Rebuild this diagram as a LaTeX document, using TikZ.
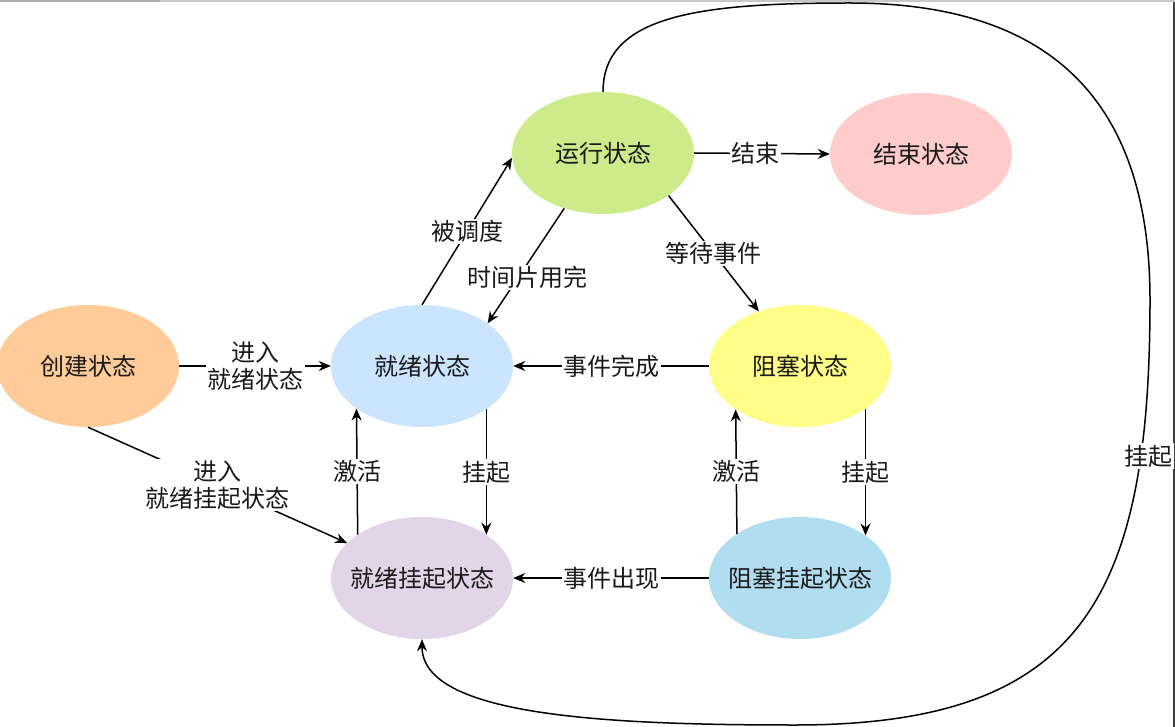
\documentclass[tikz,border=0pt]{standalone}
\usepackage{fontspec}
\newfontfamily\cjk{Noto Sans CJK SC}
\usetikzlibrary{shapes.geometric,arrows.meta}
\newcommand\ctrtext[1]{\makebox[0pt]{#1}}
\definecolor{cRun}{HTML}{CDEB8B}
\definecolor{cEnd}{HTML}{FFCCCC}
\definecolor{cNew}{HTML}{FFCC99}
\definecolor{cReady}{HTML}{CCE5FF}
\definecolor{cBlock}{HTML}{FFFF88}
\definecolor{cRS}{HTML}{E1D5E7}
\definecolor{cBS}{HTML}{B1DDF0}
\definecolor{txt}{HTML}{1A1A1A}
\begin{document}
\begin{tikzpicture}[x=1pt,y=-1pt,
  state/.style={ellipse, draw=none, inner sep=0pt, minimum width=182pt, minimum height=122pt,
    font=\cjk\fontsize{24}{28}\selectfont, text=txt},
  lbl/.style={fill=white, inner sep=1.5pt, font=\cjk\fontsize{24}{27}\selectfont, text=txt, align=center},
  edge/.style={line width=1.5pt, draw=black, -{Stealth[length=12pt,width=10pt]}},
  frameline/.style={line width=1.2pt}]
\useasboundingbox (0,0) rectangle (1175,727);
% screenshot frame
\draw[frameline, draw=black!22] (0,1) -- (1175,1);
\draw[frameline, draw=black!32] (0,1) -- (160,1);
\draw[line width=1.5pt, draw=black!75] (1174,2) -- (1174,727);
% states
\node[state, fill=cRun]   (yx)   at (603,153) {\ctrtext{运行状态}};
\node[state, fill=cEnd]   (js)   at (921,154) {\ctrtext{结束状态}};
\node[state, fill=cNew]   (cj)   at (88,366)  {\ctrtext{创建状态}};
\node[state, fill=cReady] (jx)   at (422,366) {\ctrtext{就绪状态}};
\node[state, fill=cBlock] (zs)   at (800,366) {\ctrtext{阻塞状态}};
\node[state, fill=cRS]    (jxgq) at (422,578) {\ctrtext{就绪挂起状态}};
\node[state, fill=cBS]    (zsgq) at (800,578) {\ctrtext{阻塞挂起状态}};
% transitions
\draw[edge] (cj.east) -- node[lbl]{进入\\就绪状态} (jx.west);
\draw[edge] (cj.-90) -- node[lbl]{进入\\就绪挂起状态} (jxgq.155);
\draw[edge] (jx.90) -- node[lbl]{被调度} (yx.183);
\draw[edge] (yx.235.4) -- node[lbl, pos=0.6, xshift=9pt]{时间片用完} (jx.33.5);
\draw[edge] (yx.-33.5) -- node[lbl]{等待事件} (zs.127);
\draw[edge] (yx.east) -- node[lbl, pos=0.45]{结束} (js.west);
\draw[edge] (zs.west) -- node[lbl]{事件完成} (jx.east);
\draw[edge] (zsgq.west) -- node[lbl]{事件出现} (jxgq.east);
\draw[edge] (jx.-34.1) -- node[lbl]{挂起} (jxgq.34.1);
\draw[edge] (jxgq.146.7) -- node[lbl]{激活} (jx.213.3);
\draw[edge] (zs.-33.3) -- node[lbl]{挂起} (zsgq.33.3);
\draw[edge] (zsgq.145.9) -- node[lbl]{激活} (zs.214.1);
% long suspend curve
\coordinate (k1) at (850,3);
\coordinate (k2) at (1150,300);
\coordinate (k3) at (795,725);
\draw[edge] (yx.north) .. controls (603,15) and (700,3) .. (k1)
  .. controls (1050,3) and (1150,100) .. (k2)
  .. controls (1150,600) and (1080,725) .. (k3)
  .. controls (600,725) and (422,715) .. (jxgq.south);
\node[lbl] (gqlbl) at (1148,456) {挂起};
\end{tikzpicture}
\end{document}
